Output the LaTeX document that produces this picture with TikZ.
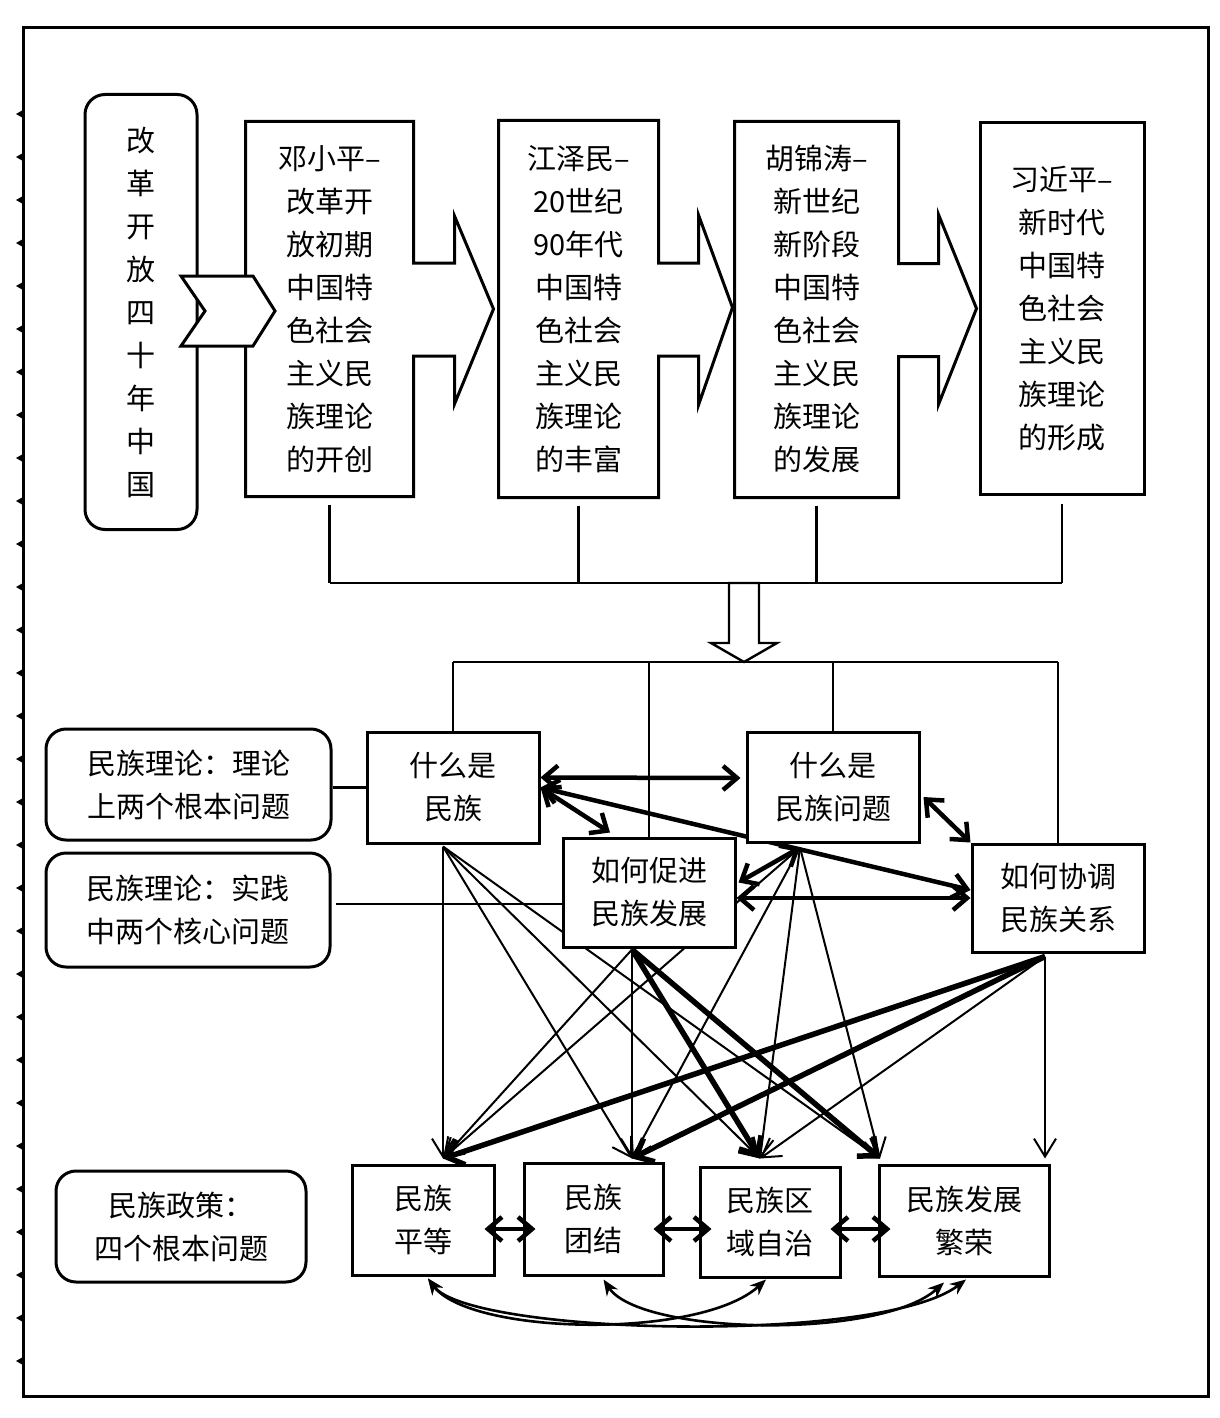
\documentclass[tikz,border=0pt]{standalone}
\usepackage{fontspec}
\setmainfont{Noto Sans CJK SC}
\usetikzlibrary{calc,arrows.meta,backgrounds}

\begin{document}
\begin{tikzpicture}[x = 1pt, y = -1pt,
        box/.style       = {draw, line width = 3pt, fill = white, align = center,
                            inner sep = 0pt, font = \fontsize{29}{43}\selectfont},
        roundbox/.style  = {box, rounded corners = 20pt},
        linkline/.style  = {line width = 2.4pt},
        thinarrow/.style = {line width = 2pt, -{Straight Barb[length=18pt,width=22pt]}},
        thickarrow/.style= {line width = 5.5pt, -{Straight Barb[length=15pt,width=26pt]}},
        twoway/.style    = {line width = 4.5pt,
                            {Straight Barb[length=14pt,width=24pt]}-{Straight Barb[length=14pt,width=24pt]}},
        arcarrow/.style  = {line width = 2.6pt,
                            {Stealth[length=16pt,width=13pt]}-{Stealth[length=16pt,width=13pt]}}]
    \useasboundingbox (0,0) rectangle (1220,1418);

    % frame with its margin marks
    \draw [line width = 3pt] (23,28) rectangle (1208,1396);
    \foreach \k in {0,...,29}
        \fill (23,{110+43*\k}) -- (16,{114+43*\k}) -- (23,{118+43*\k}) -- cycle;

    % top row: four stages
    \node [roundbox, minimum width = 112pt, minimum height = 435pt] (reform) at (141,312)
        {改\\革\\开\\放\\四\\十\\年\\中\\国};
    \node [box, draw = none, minimum width = 165pt, minimum height = 372pt] (deng) at (329.5,309)
        {邓小平–\\改革开\\放初期\\中国特\\色社会\\主义民\\族理论\\的开创};
    \node [box, draw = none, minimum width = 157pt, minimum height = 374pt] (jiang) at (578.5,309)
        {江泽民–\\20世纪\\90年代\\中国特\\色社会\\主义民\\族理论\\的丰富};
    \node [box, draw = none, minimum width = 161pt, minimum height = 373pt] (hu) at (816.5,309.5)
        {胡锦涛–\\新世纪\\新阶段\\中国特\\色社会\\主义民\\族理论\\的发展};
    \node [box, minimum width = 164pt, minimum height = 371pt] (xi) at (1062,308.5)
        {习近平–\\新时代\\中国特\\色社会\\主义民\\族理论\\的形成};

    \draw [line width = 3pt] (deng.north west) -- (deng.north east)
        -- ($(deng.east)+(0,-46)$) -- ++(41,0) -- ++(0,-47) -- ($(jiang.west)+(-5,0)$)
        -- ($(deng.east)+(41,95)$) -- ++(0,-48) -- ($(deng.east)+(0,47)$)
        -- (deng.south east) -- (deng.south west) -- cycle;
    \draw [line width = 3pt] (jiang.north west) -- (jiang.north east)
        -- ($(jiang.east)+(0,-46)$) -- ++(40,0) -- ++(0,-48) -- ($(hu.west)+(-2,-2)$)
        -- ($(jiang.east)+(40,96)$) -- ++(0,-49) -- ($(jiang.east)+(0,47)$)
        -- (jiang.south east) -- (jiang.south west) -- cycle;
    \draw [line width = 3pt] (hu.north west) -- (hu.north east)
        -- ($(hu.east)+(0,-46)$) -- ++(40,0) -- ++(0,-49) -- ($(xi.west)+(-2,0)$)
        -- ($(hu.east)+(40,95)$) -- ++(0,-48) -- ($(hu.east)+(0,47)$)
        -- (hu.south east) -- (hu.south west) -- cycle;

    \draw [line width = 3pt, fill = white]
        (181,276) -- (253,276) -- (275,311) -- (253,346) -- (181,346) -- (205,311) -- cycle;

    % gathering lines and the hollow arrow
    \coordinate (bus) at (0,583);
    \coordinate (topbar) at (0,662);
    \foreach \n in {deng,jiang,hu,xi}
        \draw [linkline] ($(\n.south)+(0,8)$) -- (\n.south |- bus);
    \draw [linkline] (deng.south |- bus) -- (xi.south |- bus);
    \draw [linkline, fill = white]
        (729,583) -- (759,583) -- (759,643) -- (777,643) -- (744,662) -- (711,643) -- (729,643) -- cycle;

    % theory: four questions
    \node [box, minimum width = 172pt, minimum height = 111pt] (nation)   at (453,787.5) {什么是\\民族};
    \node [box, minimum width = 172pt, minimum height = 110pt] (question) at (833,787)   {什么是\\民族问题};
    \node [box, minimum width = 172pt, minimum height = 109pt] (develop)  at (649,892.5) {如何促进\\民族发展};
    \node [box, minimum width = 172pt, minimum height = 108pt] (relation) at (1058,898)  {如何协调\\民族关系};

    \node [roundbox, minimum width = 285pt, minimum height = 111pt] (theory)   at (188.5,784.5)
        {民族理论：理论\\上两个根本问题};
    \node [roundbox, minimum width = 284pt, minimum height = 114pt] (practice) at (188,910)
        {民族理论：实践\\中两个核心问题};
    \node [roundbox, minimum width = 250pt, minimum height = 111pt] (policy)   at (181,1226.5)
        {民族政策：\\四个根本问题};

    % policy: four principles
    \node [box, minimum width = 142pt, minimum height = 110pt] (equality) at (423,1220)    {民族\\平等};
    \node [box, minimum width = 139pt, minimum height = 112pt] (unity)    at (593.5,1219)  {民族\\团结};
    \node [box, minimum width = 140pt, minimum height = 110pt] (autonomy) at (770,1222)    {民族区\\域自治};
    \node [box, minimum width = 170pt, minimum height = 111pt] (prosper)  at (964,1220.5)  {民族发展\\繁荣};

    \coordinate (nationout)   at ($(nation.south)+(-10,2)$);
    \coordinate (questionout) at ($(question.south)+(-33,4)$);
    \coordinate (developout)  at ($(develop.south)+(-17,1)$);
    \coordinate (relationout) at ($(relation.south)+(-13,3)$);
    \coordinate (equalityin)  at ($(equality.north)+(20,-5)$);
    \coordinate (unityin)     at ($(unity.north)+(38.5,-3)$);
    \coordinate (autonomyin)  at ($(autonomy.north)+(-10,-7)$);
    \coordinate (prosperin)   at ($(prosper.north)+(-84,-5)$);
    \coordinate (prospervert) at ($(prosper.north)+(81,-5)$);

    \begin{scope}[on background layer]
        \foreach \n in {nation,develop,question,relation}
            \draw [linkline] (\n.north |- topbar) -- (\n.north);
        \draw [linkline] (nation.north |- topbar) -- (relation.north |- topbar);

        \draw [linkline] (theory.east |- nation.west) -- (nation.west);
        \draw [linkline] ($(practice.east)+(4,-6)$) -- ($(practice.east -| develop.west)+(0,-6)$);

        % questions to principles
        \foreach \t in {equalityin,unityin,autonomyin,prosperin}
            \draw [thinarrow] (nationout) -- (\t);
        \foreach \t in {equalityin,unityin,autonomyin,prosperin}
            \draw [thinarrow] (questionout) -- (\t);
        \draw [thinarrow]  (developout) -- (equalityin);
        \draw [thinarrow]  (developout) -- (unityin);
        \draw [thickarrow] (developout) -- (autonomyin);
        \draw [thickarrow] (developout) -- (prosperin);
        \draw [thickarrow] (relationout) -- (equalityin);
        \draw [thickarrow] (relationout) -- (unityin);
        \draw [thinarrow]  (relationout) -- (autonomyin);
        \draw [thinarrow]  (relationout) -- (prospervert);

        % questions among themselves
        \draw [twoway] ($(nation.east)+(0,-10)$) -- ($(question.west)+(-5,-9)$);
        \draw [twoway] (nation.east) -- ($(develop.north)+(-39,-4)$);
        \draw [twoway] (nation.east) -- ($(relation.west)+(0,-8)$);
        \draw [twoway] ($(question.east)+(3,10)$) -- (relation.north west);
        \draw [twoway] (questionout) -- ($(develop.east)+(2,-10)$);
        \draw [twoway] ($(develop.east)+(0,5.5)$) -- (relation.west);
    \end{scope}

    % principles among themselves
    \draw [twoway, shorten <= -11pt, shorten >= -13pt] ($(equality.east)+(0,9)$) -- ($(unity.west)+(0,10)$);
    \draw [twoway, shorten <= -11pt, shorten >= -13pt] ($(unity.east)+(0,10)$) -- ($(autonomy.west)+(0,7)$);
    \draw [twoway, shorten <= -11pt, shorten >= -13pt] ($(autonomy.east)+(0,7)$) -- ($(prosper.west)+(0,8.5)$);
    \draw [arcarrow] ($(equality.south)+(5,2)$) .. controls (470,1335) and (880,1345) .. ($(prosper.south)+(2,2)$);
    \draw [arcarrow] ($(equality.south)+(5,2)$) .. controls (470,1335) and (700,1340) .. ($(autonomy.south)+(-4,1)$);
    \draw [arcarrow] ($(unity.south)+(10,3)$) .. controls (640,1335) and (880,1340) .. ($(prosper.south)+(-20,5)$);
\end{tikzpicture}
\end{document}
